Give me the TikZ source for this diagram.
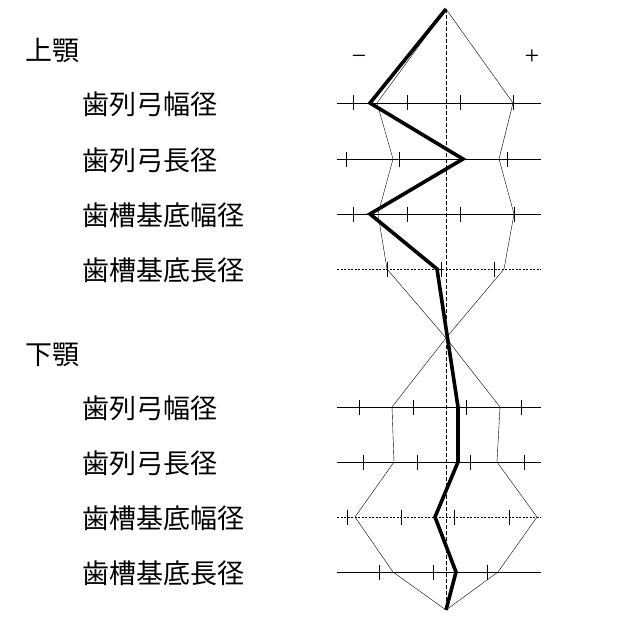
\documentclass[tikz,border=0pt]{standalone}
\usepackage{fontspec}
\newfontfamily\jpfont{Noto Sans CJK JP}
\newfontfamily\signfont{Liberation Serif}
\begin{document}
\begin{tikzpicture}[x=1pt,y=-1pt,
    axis/.style={line width=0.8pt},
    axisdash/.style={line width=0.6pt, dash pattern=on 2pt off 1.5pt},
    tickmark/.style={line width=0.6pt},
    envelope/.style={line width=0.4pt},
    profile/.style={line width=3.6pt, line join=miter},
    label/.style={anchor=west, inner sep=0pt, font=\jpfont\fontsize{27}{27}\selectfont},
    sign/.style={anchor=base, inner sep=0pt, font=\signfont\fontsize{26}{26}\selectfont}]

    \useasboundingbox (0,0) rectangle (627,626);

    % Labels on the left
    \node[label] (upper) at (25,50) {上顎};
    \node[label] (u1) at (82,104) {歯列弓幅径};
    \node[label] (u2) at (82,160) {歯列弓長径};
    \node[label] (u3) at (82,215) {歯槽基底幅径};
    \node[label] (u4) at (82,270) {歯槽基底長径};
    \node[label] (lower) at (25,355) {下顎};
    \node[label] (l1) at (82,408) {歯列弓幅径};
    \node[label] (l2) at (82,463) {歯列弓長径};
    \node[label] (l3) at (82,518) {歯槽基底幅径};
    \node[label] (l4) at (82,573) {歯槽基底長径};

    % Minus and plus signs
    \node[sign] (minus) at (359,65) {−};
    \node[sign] (plus) at (532,65) {+};

    % Axis lines of the items
    \foreach \y in {103,159,214,407,462,572}
        \draw[axis] (337,\y) -- (541,\y);
    \foreach \y in {269,517}
        \draw[axisdash] (337,\y) -- (541,\y);

    % Tick marks (standard deviations)
    \foreach \x in {353,407,460,513} \draw[tickmark] (\x,95.5) -- (\x,110.5);
    \foreach \x in {346,399,507} \draw[tickmark] (\x,151.5) -- (\x,166.5);
    \foreach \x in {353,407,460,514} \draw[tickmark] (\x,206.5) -- (\x,221.5);
    \foreach \x in {387,441,494} \draw[tickmark] (\x,261.5) -- (\x,276.5);
    \foreach \x in {359,413,466,521} \draw[tickmark] (\x,399.5) -- (\x,414.5);
    \foreach \x in {363,417,470,524} \draw[tickmark] (\x,454.5) -- (\x,469.5);
    \foreach \x in {347,401,454,509} \draw[tickmark] (\x,509.5) -- (\x,524.5);
    \foreach \x in {379,433,487} \draw[tickmark] (\x,564.5) -- (\x,579.5);

    % Apexes and crossing point
    \coordinate (top) at (446,9);
    \coordinate (bot) at (446,610);
    \coordinate (X) at (446,338);

    % Center line
    \draw[axis, dash pattern=on 4pt off 2pt] (top) -- (bot);

    % Envelope points, left side above
    \coordinate (A1) at (377,103);
    \coordinate (A2) at (393,159);
    \coordinate (A3) at (378,214);
    \coordinate (A4) at (387,269);
    \coordinate (A5) at (500,407);
    \coordinate (A6) at (497,462);
    \coordinate (A7) at (537,517);
    \coordinate (A8) at (498,572);
    % Envelope points, right side above
    \coordinate (B1) at (513,103);
    \coordinate (B2) at (499,159);
    \coordinate (B3) at (514,214);
    \coordinate (B4) at (504,269);
    \coordinate (B5) at (392,407);
    \coordinate (B6) at (394,462);
    \coordinate (B7) at (355,517);
    \coordinate (B8) at (393,572);

    \draw[envelope] (top) -- (A1) -- (A2) -- (A3) -- (A4) -- (X) -- (A5) -- (A6) -- (A7) -- (A8) -- (bot);
    \draw[envelope] (top) -- (B1) -- (B2) -- (B3) -- (B4) -- (X) -- (B5) -- (B6) -- (B7) -- (B8) -- (bot);

    % Profile of the case
    \coordinate (P1) at (370,103);
    \coordinate (P2) at (463,159);
    \coordinate (P3) at (370,214);
    \coordinate (P4) at (437,269);
    \coordinate (P5) at (458,407);
    \coordinate (P6) at (458,462);
    \coordinate (P7) at (435,517);
    \coordinate (P8) at (456,572);

    \draw[profile] (top) -- (P1) -- (P2) -- (P3) -- (P4) -- (P5) -- (P6) -- (P7) -- (P8) -- (bot);

\end{tikzpicture}
\end{document}
